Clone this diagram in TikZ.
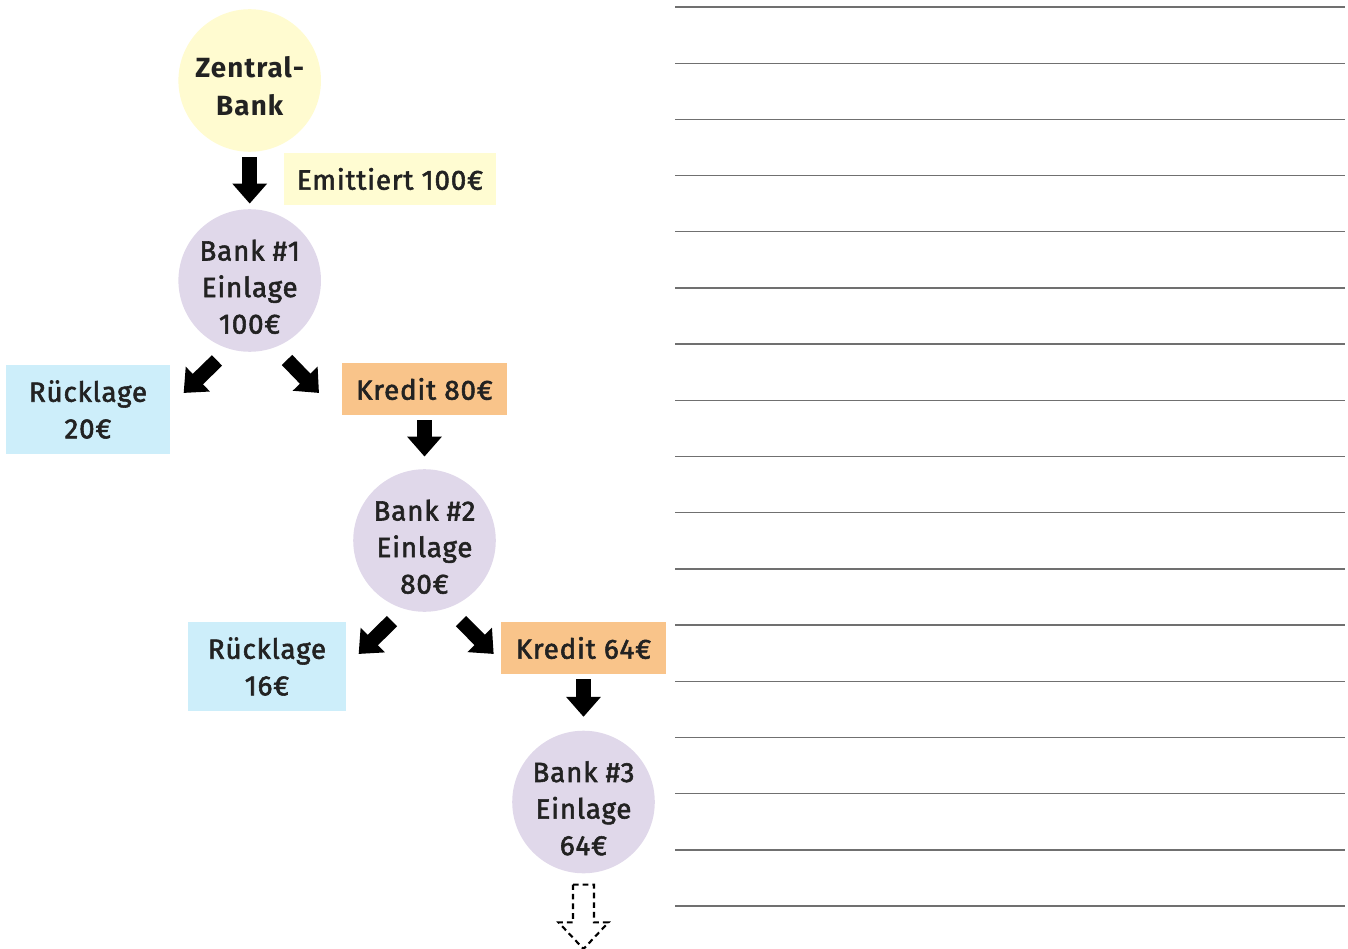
\documentclass[tikz,border=0pt]{standalone}
\usepackage{fontspec}
\setmainfont{Fira Sans}[LetterSpace=3, UprightFeatures={FakeBold=2}, BoldFeatures={LetterSpace=4}]
\usetikzlibrary{arrows.meta}
\definecolor{zbgelb}{HTML}{FFFBD0}
\definecolor{emgelb}{HTML}{FFFCD2}
\definecolor{banklila}{HTML}{E0D8EA}
\definecolor{ruecklageblau}{HTML}{CDEEFA}
\definecolor{kreditorange}{HTML}{F9C48A}
\definecolor{schrift}{HTML}{222222}
\definecolor{linie}{HTML}{707070}

\begin{document}
\begin{tikzpicture}[x=0.02cm, y=-0.02cm,
    every node/.style={text=schrift, font=\fontsize{15.8}{20.8}\selectfont},
    bank/.style={circle, fill=banklila, minimum size=2.852cm, inner sep=-10pt, align=center},
    feld/.style={rectangle, inner sep=0pt, align=center, minimum height=1.04cm},
    pfeil/.style={line width=8.3pt, -{Triangle[width=19pt, length=11.3pt]}},
    weiter/.style={dash pattern=on 3.2pt off 2.3pt, line width=1.2pt},
    zeile/.style={draw=linie, line width=0.75pt}]

  \useasboundingbox (0,0) rectangle (1348,949);

  \node[bank, fill=zbgelb, font=\bfseries\fontsize{15.8}{21.4}\selectfont] (zb) at (249.7,80.5) {\rule{0pt}{18.5pt}Zentral-\\Bank};
  \node[feld, fill=emgelb, minimum width=4.24cm] (em) at (390,179) {Emittiert 100€};
  \node[bank] (b1) at (249.7,280.5) {\rule{0pt}{19pt}Bank \#1\\Einlage\\100€};
  \node[feld, fill=ruecklageblau, minimum width=3.28cm, minimum height=1.78cm] (r1) at (88,409.5) {Rücklage\\20€};
  \node[feld, fill=kreditorange, minimum width=3.3cm] (k1) at (424.5,389) {Kredit 80€};
  \node[bank] (b2) at (424.5,540.5) {\rule{0pt}{19pt}Bank \#2\\Einlage\\80€};
  \node[feld, fill=ruecklageblau, minimum width=3.16cm, minimum height=1.78cm] (r2) at (267,666.5) {Rücklage\\16€};
  \node[feld, fill=kreditorange, minimum width=3.3cm] (k2) at (583.5,648) {Kredit 64€};
  \node[bank] (b3) at (583.5,802) {\rule{0pt}{19pt}Bank \#3\\Einlage\\64€};

  \draw[pfeil, shorten <=3pt, shorten >=3pt] (zb) -- (b1);
  \draw[pfeil] ([shift={(-32.7,8.3)}]b1.south) -- ([shift={(13.3,28.3)}]r1.north east);
  \draw[pfeil] ([shift={(37.3,7.8)}]b1.south) -- ([shift={(-22.7,30.3)}]k1.north west);
  \draw[pfeil, shorten <=2.8pt, shorten >=7pt] (k1) -- (b2);
  \draw[pfeil] ([shift={(-32.5,9)}]b2.south) -- ([shift={(12.3,32.3)}]r2.north east);
  \draw[pfeil] ([shift={(36.5,9)}]b2.south) -- ([shift={(-7,32.3)}]k2.north west);
  \draw[pfeil, shorten <=2.8pt, shorten >=7.7pt] (k2) -- (b3);
  \draw[weiter] ([shift={(-10.5,11)}]b3.south) -- ++(21,0) -- ++(0,37.7) -- ++(14.5,0) -- ++(-25,26.6) -- ++(-25,-26.6) -- ++(14.5,0) -- cycle;

  \foreach \n in {0,...,16}
    \draw[zeile] (675,{7+56.19*\n}) -- (1345,{7+56.19*\n});

\end{tikzpicture}
\end{document}
